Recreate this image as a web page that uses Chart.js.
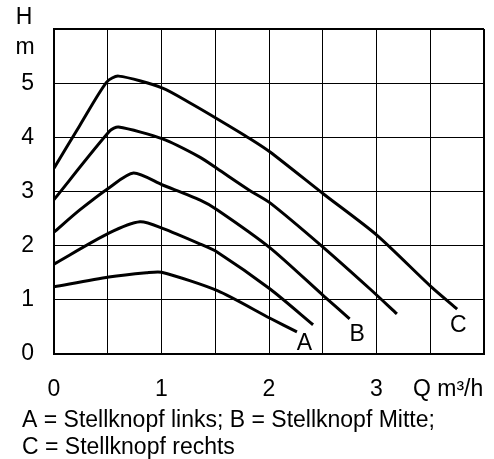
<!DOCTYPE html>
<html>
<head>
<meta charset="utf-8">
<title>Pumpenkennlinie</title>
<script src="https://cdn.jsdelivr.net/npm/chart.js@4.4.1/dist/chart.umd.min.js"></script>
<style>
    html, body { margin: 0; padding: 0; background: #fff; }
    #wrap { position: relative; width: 494px; height: 459px; }
</style>
</head>
<body>
<div id="wrap"><canvas id="pumpChart"></canvas></div>
<script>
// Förderhöhe H (m) über Förderstrom Q (m³/h), fünf Stellknopf-Stufen
const qC = [0, 0.24, 0.49, 0.6, 1.01, 1.27, 1.52, 1.82, 2.01, 2.51, 3.0, 3.52, 3.75];
const hC = [3.43, 4.22, 5.02, 5.13, 4.91, 4.63, 4.34, 3.98, 3.73, 2.95, 2.2, 1.22, 0.83];

const q2 = [0, 0.52, 0.6, 1.01, 1.36, 1.52, 1.82, 2.01, 2.51, 2.94, 3.19];
const h2 = [2.85, 4.12, 4.19, 3.97, 3.63, 3.42, 3.02, 2.79, 1.96, 1.2, 0.74];

const qB = [0, 0.24, 0.52, 0.74, 1.01, 1.36, 1.52, 2.01, 2.51, 2.75];
const hB = [2.25, 2.66, 3.08, 3.34, 3.12, 2.84, 2.66, 1.96, 1.07, 0.65];

const q4 = [0, 0.51, 0.8, 1.01, 1.36, 1.52, 2.01, 2.41];
const h4 = [1.66, 2.23, 2.44, 2.32, 2.03, 1.88, 1.2, 0.54];

const qA = [0, 0.51, 0.86, 1.0, 1.52, 2.01, 2.26];
const hA = [1.24, 1.42, 1.5, 1.51, 1.17, 0.66, 0.41];

// Kurvenbeschriftung (Lage in Achsenwerten)
const curveNames = ['A', 'B', 'C'];
const nameQ = [2.33, 2.82, 3.76];
const nameH = [0.2, 0.35, 0.52];

const xTicks = [0, 1, 2, 3];
const yTicks = [0, 1, 2, 3, 4, 5];
const captionLines = ['A = Stellknopf links; B = Stellknopf Mitte;', 'C = Stellknopf rechts'];

const FONT = '"Liberation Sans", Arial, sans-serif';
const FSIZE = 23;

function toPoints(qs, hs) {
    return qs.map((q, i) => ({ x: q, y: hs[i] }));
}

function curve(qs, hs) {
    return {
        data: toPoints(qs, hs),
        showLine: true,
        borderColor: '#000',
        borderWidth: 3,
        pointRadius: 0,
        tension: 0.25,
        fill: false
    };
}

// weißer Hintergrund + freie Texte (Achsennamen, Kurvennamen, Legende)
const textPlugin = {
    id: 'texts',
    beforeDraw(chart) {
        const c = chart.ctx;
        c.save();
        c.fillStyle = '#fff';
        c.fillRect(0, 0, chart.width, chart.height);
        c.restore();
    },
    afterDraw(chart) {
        const c = chart.ctx;
        const xs = chart.scales.x, ys = chart.scales.y;
        c.save();
        c.fillStyle = '#000';
        c.font = FSIZE + 'px ' + FONT;
        c.textBaseline = 'middle';
        c.textAlign = 'center';
        c.fillText('H', 24, 18);
        c.fillText('m', 25, 48);
        c.textAlign = 'left';
        c.fillText('Q m\u00B3/h', 413, 390);
        c.textAlign = 'center';
        curveNames.forEach((n, i) => {
            c.fillText(n, xs.getPixelForValue(nameQ[i]), ys.getPixelForValue(nameH[i]));
        });
        c.textAlign = 'left';
        captionLines.forEach((line, i) => {
            c.fillText(line, 22, 421 + i * 27);
        });
        c.restore();
    }
};

document.addEventListener('DOMContentLoaded', function () {
    const ctx = document.getElementById('pumpChart');

    new Chart(ctx, {
        type: 'scatter',
        data: {
            datasets: [curve(qC, hC), curve(q2, h2), curve(qB, hB), curve(q4, h4), curve(qA, hA)]
        },
        options: {
            responsive: true,
            maintainAspectRatio: false,
            animation: false,
            layout: {
                padding: { top: 29, right: 10, left: 0, bottom: 0 }
            },
            plugins: {
                legend: { display: false },
                tooltip: { enabled: false }
            },
            scales: {
                x: {
                    type: 'linear',
                    min: 0,
                    max: 4,
                    afterBuildTicks: scale => {
                        const t = [];
                        for (let v = 0; v <= 8; v++) t.push({ value: v / 2 });
                        scale.ticks = t;
                    },
                    ticks: {
                        autoSkip: false,
                        maxRotation: 0,
                        padding: 22,
                        color: '#000',
                        font: { family: FONT, size: FSIZE },
                        callback: v => xTicks.includes(v) ? String(v) : ''
                    },
                    grid: {
                        color: '#000',
                        lineWidth: c => c.tick && c.tick.value === 4 ? 2 : 1,
                        drawTicks: false
                    },
                    border: { color: '#000', width: 2 },
                    afterFit: scale => {
                        scale.height = 105;
                        scale.paddingLeft = 0;
                        scale.paddingRight = 0;
                    }
                },
                y: {
                    min: 0,
                    max: 6,
                    ticks: {
                        stepSize: 1,
                        padding: 20,
                        color: '#000',
                        font: { family: FONT, size: FSIZE },
                        callback: v => yTicks.includes(v) ? String(v) : ''
                    },
                    grid: {
                        color: '#000',
                        lineWidth: c => c.tick && c.tick.value === 6 ? 2 : 1,
                        drawTicks: false
                    },
                    border: { color: '#000', width: 2 },
                    afterFit: scale => {
                        scale.width = 54;
                        scale.paddingTop = 0;
                        scale.paddingBottom = 0;
                    }
                }
            }
        },
        plugins: [textPlugin]
    });
});
</script>
</body>
</html>
